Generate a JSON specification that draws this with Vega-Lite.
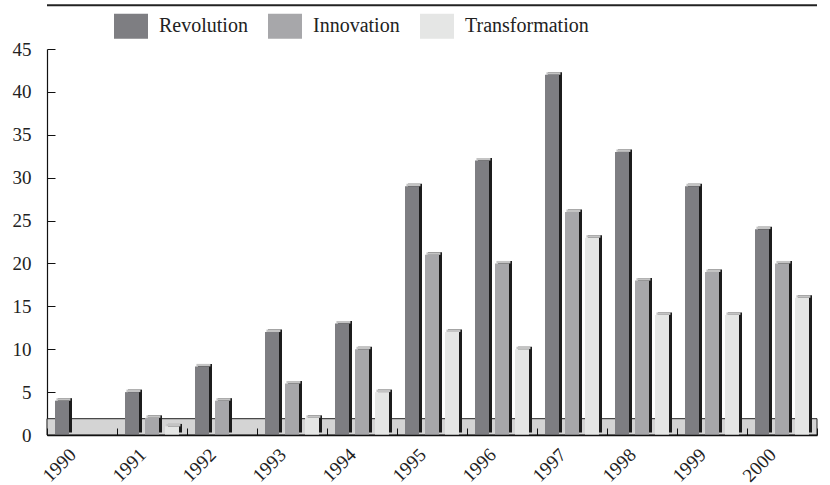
{
  "$schema": "https://vega.github.io/schema/vega-lite/v6.json",
  "width": 770,
  "height": 386,
  "autosize": {"type": "none"},
  "padding": {"left": 47, "top": 49, "right": 13, "bottom": 50},
  "background": "white",
  "config": {
    "view": {"stroke": null},
    "font": "Liberation Serif",
    "axis": {"labelFont": "Liberation Serif", "labelColor": "#222", "labelFontSize": 19, "domainColor": "#111", "tickColor": "#111", "grid": false, "title": null},
    "legend": {"labelFont": "Liberation Serif", "labelFontSize": 20, "labelColor": "#222"}
  },
  "data": {
    "values": [
      {"year": "1990", "series": "Revolution", "value": 4},
      {"year": "1990", "series": "Innovation", "value": 0},
      {"year": "1990", "series": "Transformation", "value": 0},
      {"year": "1991", "series": "Revolution", "value": 5},
      {"year": "1991", "series": "Innovation", "value": 2},
      {"year": "1991", "series": "Transformation", "value": 1},
      {"year": "1992", "series": "Revolution", "value": 8},
      {"year": "1992", "series": "Innovation", "value": 4},
      {"year": "1992", "series": "Transformation", "value": 0},
      {"year": "1993", "series": "Revolution", "value": 12},
      {"year": "1993", "series": "Innovation", "value": 6},
      {"year": "1993", "series": "Transformation", "value": 2},
      {"year": "1994", "series": "Revolution", "value": 13},
      {"year": "1994", "series": "Innovation", "value": 10},
      {"year": "1994", "series": "Transformation", "value": 5},
      {"year": "1995", "series": "Revolution", "value": 29},
      {"year": "1995", "series": "Innovation", "value": 21},
      {"year": "1995", "series": "Transformation", "value": 12},
      {"year": "1996", "series": "Revolution", "value": 32},
      {"year": "1996", "series": "Innovation", "value": 20},
      {"year": "1996", "series": "Transformation", "value": 10},
      {"year": "1997", "series": "Revolution", "value": 42},
      {"year": "1997", "series": "Innovation", "value": 26},
      {"year": "1997", "series": "Transformation", "value": 23},
      {"year": "1998", "series": "Revolution", "value": 33},
      {"year": "1998", "series": "Innovation", "value": 18},
      {"year": "1998", "series": "Transformation", "value": 14},
      {"year": "1999", "series": "Revolution", "value": 29},
      {"year": "1999", "series": "Innovation", "value": 19},
      {"year": "1999", "series": "Transformation", "value": 14},
      {"year": "2000", "series": "Revolution", "value": 24},
      {"year": "2000", "series": "Innovation", "value": 20},
      {"year": "2000", "series": "Transformation", "value": 16}
    ]
  },
  "resolve": {"scale": {"xOffset": "independent"}},
  "layer": [
    {
      "transform": [{"aggregate": [{"op": "count", "as": "n"}]}],
      "mark": {"type": "rect", "fill": "#d4d4d4", "stroke": "#222", "strokeWidth": 1},
      "encoding": {
        "y": {"datum": 0, "type": "quantitative", "scale": {"domain": [0, 45], "nice": false}},
        "y2": {"datum": 1.9}
      }
    },
    {
      "transform": [{"aggregate": [{"op": "count", "as": "n"}]}],
      "mark": {"type": "rule", "color": "#222", "strokeWidth": 2, "clip": false},
      "encoding": {"y": {"datum": 50.1, "type": "quantitative"}}
    },
    {
      "transform": [{"filter": "datum.value > 0"}],
      "mark": {"type": "bar", "color": "#1c1c1c", "yOffset": -2.5, "y2Offset": 0},
      "encoding": {
        "x": {"field": "year", "type": "nominal"},
        "xOffset": {"field": "series", "sort": ["Revolution", "Innovation", "Transformation"], "scale": {"paddingInner": 0.3, "paddingOuter": 0.4, "align": 0.6875}},
        "y": {"field": "value", "type": "quantitative"}
      }
    },
    {
      "transform": [{"filter": "datum.value > 0"}],
      "mark": {"type": "bar", "color": "#c4c4c4", "yOffset": -2.5, "y2Offset": 0},
      "encoding": {
        "x": {"field": "year", "type": "nominal"},
        "xOffset": {"field": "series", "sort": ["Revolution", "Innovation", "Transformation"], "scale": {"paddingInner": 0.3, "paddingOuter": 0.4, "align": 0.59}},
        "y": {"field": "value", "type": "quantitative"},
        "y2": {"field": "value"}
      }
    },
    {
      "mark": {"type": "bar"},
      "encoding": {
        "x": {
          "field": "year", "type": "nominal",
          "scale": {"paddingInner": 0, "paddingOuter": 0},
          "axis": {"labelAngle": -45, "labelAlign": "right", "labelBaseline": "top", "labelOffset": -16, "tickBand": "extent", "tickSize": -7, "zindex": 1, "labelPadding": 17, "domainWidth": 1.5}
        },
        "xOffset": {
          "field": "series", "sort": ["Revolution", "Innovation", "Transformation"],
          "scale": {"paddingInner": 0.3, "paddingOuter": 0.4, "align": 0.5}
        },
        "y": {
          "field": "value", "type": "quantitative",
          "scale": {"domain": [0, 45], "nice": false},
          "axis": {"values": [0, 5, 10, 15, 20, 25, 30, 35, 40, 45], "tickSize": -8, "labelPadding": 24, "domainWidth": 1.2}
        },
        "color": {
          "field": "series", "type": "nominal",
          "sort": ["Revolution", "Innovation", "Transformation"],
          "scale": {"domain": ["Revolution", "Innovation", "Transformation"], "range": ["#7e7e82", "#a7a7aa", "#e5e6e5"]},
          "legend": {"title": null, "orient": "none", "direction": "horizontal", "legendX": 67, "legendY": -40, "symbolType": "M-1,-0.735H1V0.735H-1Z", "symbolSize": 1156, "symbolStrokeWidth": 0, "symbolOpacity": 1, "labelOffset": 11, "columnPadding": 20}
        }
      }
    }
  ]
}
